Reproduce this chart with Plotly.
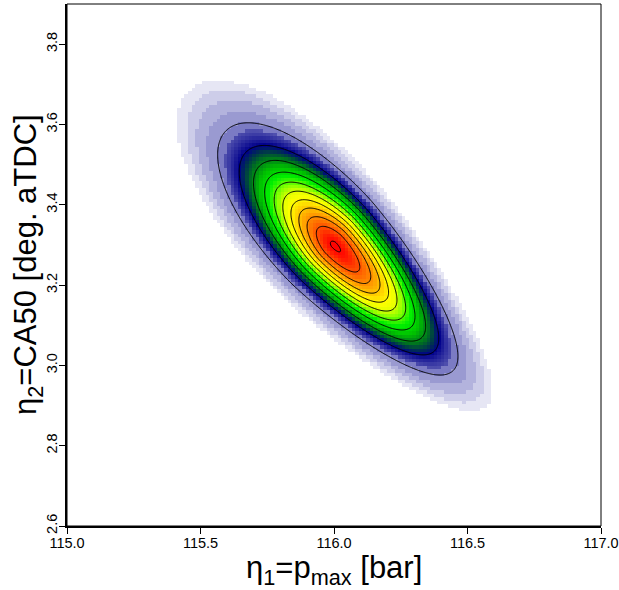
import numpy as np
import plotly.graph_objects as go

# ---- values ----
mode_eta1 = 116.0      # location of the density peak, eta1 [bar]
mode_eta2 = 3.30       # location of the density peak, eta2 [deg aTDC]
sd_eta1 = 0.202        # spread along eta1
sd_eta2 = 0.141        # spread along eta2
corr = -0.777          # correlation between eta1 and eta2
# shape of the fall-off along the long axis (toward upper-left / lower-right)
tail_power_upper_left = 1.65
tail_scale_upper_left = 1.45
tail_power_lower_right = 2.0
tail_scale_lower_right = 2.296
widening = 0.08        # the cloud widens toward the upper-left end

x_range = [115.0, 117.0]
y_range = [2.6, 3.9]
x_ticks = [115.0, 115.5, 116.0, 116.5, 117.0]
x_tick_labels = ["115.0", "115.5", "116.0", "116.5", "117.0"]
y_ticks = [2.6, 2.8, 3.0, 3.2, 3.4, 3.6, 3.8]
y_tick_labels = ["2.6", "2.8", "3.0", "3.2", "3.4", "3.6", "3.8"]

contour_step = 0.0903   # contour spacing as fraction of the peak
n_contours = 11
cutoff = 0.0195         # density fraction below which nothing is drawn
n_image = 150           # image cells per axis


def density(X, Y):
    a = (X - mode_eta1) / sd_eta1
    b = (Y - mode_eta2) / sd_eta2
    u = (a - b) / np.sqrt(2.0) / np.sqrt(1.0 - corr)
    v = (a + b) / np.sqrt(2.0) / np.sqrt(1.0 + corr)
    g = np.where(u < 0,
                 np.abs(u) ** tail_power_upper_left / tail_scale_upper_left,
                 np.abs(u) ** tail_power_lower_right / tail_scale_lower_right)
    w = np.exp(-widening * u)
    return np.exp(-(g + 0.5 * (v / w) ** 2))


# fine grid for smooth contour lines
xf = np.linspace(x_range[0], x_range[1], 601)
yf = np.linspace(y_range[0], y_range[1], 601)
XF, YF = np.meshgrid(xf, yf)
ZF = density(XF, YF)

# image grid (cell centres)
dx = (x_range[1] - x_range[0]) / n_image
dy = (y_range[1] - y_range[0]) / n_image
xc = x_range[0] + dx * (np.arange(n_image) + 0.5)
yc = y_range[0] + dy * (np.arange(n_image) + 0.5)
XC, YC = np.meshgrid(xc, yc)
Z = density(XC, YC)
Zimg = np.where(Z < cutoff, np.nan, Z)

colorscale = [
    [0.000, "#E6E6F4"], [0.0287, "#E6E6F4"],
    [0.0287, "#CDCDE9"], [0.042, "#CDCDE9"],
    [0.042, "#B3B3DD"], [0.0614, "#B3B3DD"],
    [0.0614, "#9A9AD1"], [0.0903, "#9A9AD1"],
    [0.0903, "#7B7BC4"], [0.115, "#7B7BC4"],
    [0.115, "#5050AE"], [0.140, "#3030A0"],
    [0.180, "#00008B"],
    [0.210, "#003050"],
    [0.250, "#007020"],
    [0.320, "#00C000"],
    [0.400, "#00F000"],
    [0.480, "#80FF00"],
    [0.560, "#E8FF00"],
    [0.620, "#FFFF00"],
    [0.700, "#FFD000"],
    [0.780, "#FFA000"],
    [0.860, "#FF7000"],
    [0.930, "#FF4000"],
    [1.000, "#FF0000"],
]

fig = go.Figure()
fig.add_trace(go.Heatmap(
    x=xc, y=yc, z=Zimg, zmin=0, zmax=1, zsmooth=False,
    colorscale=colorscale, showscale=False, hoverinfo="skip",
))
fig.add_trace(go.Contour(
    x=xf, y=yf, z=ZF, showscale=False, hoverinfo="skip",
    contours=dict(start=contour_step, end=contour_step * n_contours + 1e-6,
                  size=contour_step, coloring="none"),
    line=dict(color="black", width=1), autocontour=False,
))

font_family = "Liberation Sans, Arial, sans-serif"
axis_common = dict(
    showgrid=False, zeroline=False, showline=True, linewidth=2, linecolor="black",
    ticks="outside", ticklen=6, tickwidth=1, tickcolor="black",
    tickfont=dict(family=font_family, size=14.5, color="black"),
    automargin=False, mirror=False, ticklabeloverflow="allow",
)
fig.update_xaxes(range=x_range, tickvals=x_ticks, ticktext=x_tick_labels,
                 ticklabelstandoff=-3, **axis_common)
fig.update_yaxes(range=y_range, tickvals=y_ticks, ticktext=y_tick_labels, tickangle=-90,
                 ticklabelstandoff=-4, **axis_common)
fig.add_shape(type="rect", xref="paper", yref="paper", x0=0, y0=0, x1=1, y1=1,
              line=dict(color="black", width=1), layer="above")

title_font = dict(family=font_family, size=31, color="black")
fig.add_annotation(text="η<sub>1</sub>=p<sub>max</sub> [bar]", xref="paper", yref="paper",
                   x=0.5, y=-0.084, xanchor="center", yanchor="middle",
                   showarrow=False, font=title_font)
fig.add_annotation(text="η<sub>2</sub>=CA50 [deg. aTDC]", xref="paper", yref="paper",
                   x=-0.073, y=0.5, xanchor="center", yanchor="middle", textangle=-90,
                   showarrow=False, font=title_font)
fig.update_layout(
    width=619, height=590,
    margin=dict(l=67, r=18, t=4, b=64, pad=0),
    plot_bgcolor="white", paper_bgcolor="white", showlegend=False,
)
fig.write_html("out.html", config={"displayModeBar": False},
               post_script="document.body.style.margin='0px';")
